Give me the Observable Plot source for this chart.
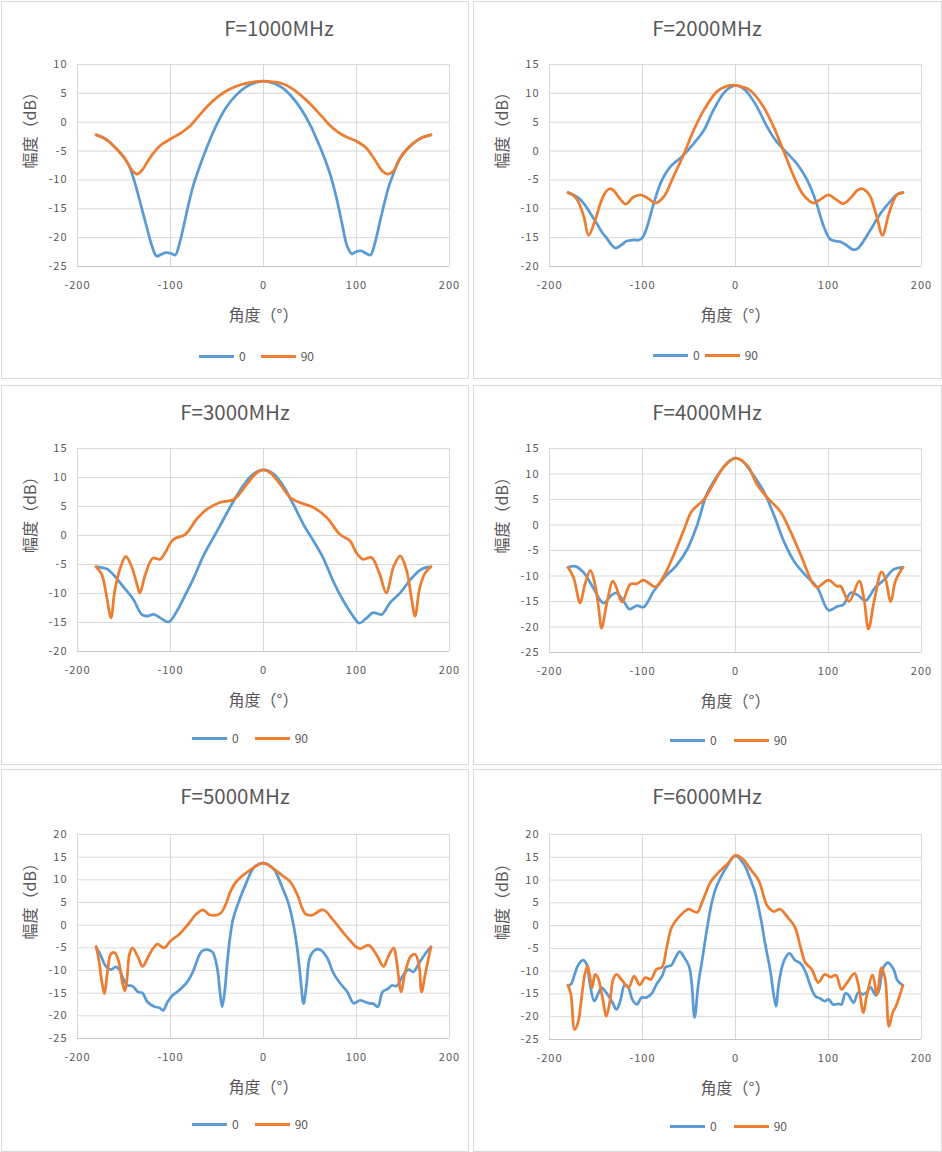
<!DOCTYPE html>
<html><head><meta charset="utf-8">
<script src="https://cdn.jsdelivr.net/npm/d3@7"></script>
<script src="https://cdn.jsdelivr.net/npm/@observablehq/plot@0.6"></script>
<style>
body{margin:0;background:#fff;}
#root{position:relative;width:942px;height:1152px;background:#fff;overflow:hidden;font-family:"Noto Sans CJK SC","Noto Sans",sans-serif;color:#595959;}
.panel{position:absolute;box-sizing:border-box;border:1px solid #d9d9d9;background:#fff;}
.title{position:absolute;left:0;width:468px;height:30px;line-height:30px;font-size:20.5px;text-align:center;white-space:nowrap;color:#595959;}
.legend{position:absolute;display:flex;align-items:center;font-size:12px;height:16px;line-height:16px;color:#595959;white-space:nowrap;}
.sw{display:inline-block;width:35px;height:3px;margin-right:5px;}
#root svg{position:absolute;}
</style></head>
<body><div id="root"></div>
<script>
// ---------- data ----------
const titles = ["F=1000MHz","F=2000MHz","F=3000MHz","F=4000MHz","F=5000MHz","F=6000MHz"];
const seriesNames = ["0","90"];
const seriesColors = ["#5B9BD5","#ED7D31"];
const xTickValues = [-200,-100,0,100,200];
const xLabel = "角度（°）";
const yLabel = "幅度（dB）";
const yDomains = [[-25,10],[-20,15],[-20,15],[-25,15],[-25,20],[-25,20]];

const f1000_0 = [[-180,-2.2],[-170,-2.9],[-160,-4.3],[-150,-6.1],[-145,-7.4],[-140,-9.6],[-135,-12.4],[-130,-15.5],[-125,-18.5],[-120,-21.4],[-115,-23.2],[-110,-22.9],[-105,-22.6],[-100,-22.7],[-95,-23.0],[-90,-20.8],[-85,-17.4],[-80,-13.8],[-75,-10.7],[-70,-8.3],[-60,-4.0],[-50,-0.3],[-40,2.6],[-30,4.6],[-20,6.0],[-10,6.8],[0,7.1],[10,6.8],[20,6.0],[30,4.5],[40,2.4],[50,-0.4],[60,-4.0],[70,-8.2],[75,-10.9],[80,-14.2],[85,-18.0],[90,-21.5],[95,-22.8],[100,-22.4],[105,-22.3],[110,-22.7],[115,-23.0],[120,-20.8],[125,-17.4],[130,-14.0],[135,-11.0],[140,-8.8],[145,-6.8],[150,-5.5],[160,-3.8],[170,-2.7],[180,-2.2]];
const f1000_90 = [[-180,-2.2],[-170,-2.9],[-160,-4.3],[-150,-6.1],[-145,-7.4],[-140,-8.6],[-136,-9.0],[-130,-8.2],[-125,-6.9],[-120,-5.7],[-115,-4.7],[-110,-3.9],[-100,-2.9],[-90,-2.0],[-80,-0.8],[-70,1.0],[-60,2.8],[-50,4.3],[-40,5.4],[-30,6.2],[-20,6.7],[-10,7.0],[0,7.1],[10,7.0],[20,6.7],[30,5.9],[40,4.7],[50,3.2],[60,1.5],[70,-0.3],[80,-1.7],[90,-2.6],[100,-3.3],[110,-4.4],[120,-6.6],[128,-8.5],[134,-9.0],[140,-8.4],[145,-6.8],[150,-5.5],[160,-3.8],[170,-2.7],[180,-2.2]];

const f2000_0 = [[-180,-7.2],[-170,-8.0],[-163,-9.1],[-156,-10.8],[-149,-12.6],[-143,-14.2],[-138,-15.2],[-133,-16.3],[-129,-16.8],[-123,-16.3],[-117,-15.6],[-110,-15.4],[-104,-15.4],[-100,-15.0],[-95,-13.1],[-88,-9.1],[-79,-5.0],[-70,-2.7],[-60,-1.3],[-56,-0.7],[-45,1.3],[-34,3.6],[-24,7.0],[-13,10.0],[-6,11.0],[0,11.4],[6,11.1],[12,10.3],[23,7.7],[34,4.2],[43,1.9],[54,-0.1],[66,-2.2],[77,-5.0],[86,-8.5],[95,-13.1],[102,-15.3],[108,-15.6],[113,-15.7],[120,-16.4],[127,-17.1],[132,-16.8],[136,-16.0],[145,-13.7],[156,-10.8],[166,-8.8],[173,-7.6],[180,-7.2]];
const f2000_90 = [[-180,-7.2],[-175,-7.6],[-170,-8.5],[-163,-11.4],[-158,-14.6],[-151,-12.0],[-144,-8.5],[-139,-7.0],[-135,-6.5],[-130,-7.0],[-126,-7.9],[-118,-9.2],[-110,-8.0],[-102,-7.6],[-94,-8.2],[-86,-9.0],[-77,-7.9],[-67,-4.5],[-56,-0.7],[-45,3.6],[-34,7.1],[-20,10.3],[-10,11.2],[0,11.4],[8,11.1],[16,10.5],[30,7.7],[41,4.2],[52,-0.1],[63,-4.5],[73,-7.6],[84,-9.0],[92,-8.3],[100,-7.6],[109,-8.5],[116,-9.1],[125,-7.9],[131,-6.8],[136,-6.5],[141,-7.0],[145,-7.9],[152,-11.4],[158,-14.6],[165,-10.8],[172,-7.9],[176,-7.3],[180,-7.2]];

const f3000_0 = [[-180,-5.4],[-175,-5.5],[-168,-5.8],[-160,-7.0],[-150,-9.0],[-140,-11.0],[-131,-13.6],[-125,-13.9],[-118,-13.6],[-111,-14.2],[-102,-14.9],[-93,-13.0],[-84,-10.2],[-75,-7.3],[-64,-3.3],[-54,-0.4],[-43,2.8],[-32,6.0],[-21,8.8],[-11,10.6],[0,11.3],[11,10.6],[21,8.6],[32,5.4],[43,1.9],[54,-1.0],[64,-3.8],[75,-7.9],[86,-11.3],[95,-13.6],[103,-15.1],[111,-14.2],[118,-13.3],[127,-13.6],[136,-11.6],[147,-9.9],[158,-7.6],[168,-6.0],[175,-5.5],[180,-5.4]];
const f3000_90 = [[-180,-5.4],[-174,-6.7],[-169,-10.2],[-164,-14.2],[-160,-9.6],[-154,-5.6],[-148,-3.6],[-142,-5.3],[-136,-8.4],[-133,-9.9],[-127,-6.7],[-119,-3.9],[-111,-4.1],[-106,-3.0],[-97,-0.7],[-84,0.2],[-72,2.8],[-61,4.5],[-47,5.7],[-32,6.2],[-18,8.8],[-8,10.7],[0,11.3],[8,10.7],[18,8.8],[29,6.5],[39,5.7],[54,4.8],[68,3.1],[82,0.2],[93,-0.9],[100,-3.0],[107,-4.1],[116,-3.8],[125,-6.7],[132,-9.9],[140,-5.3],[147,-3.5],[154,-6.1],[159,-10.7],[163,-13.9],[168,-9.0],[174,-6.4],[180,-5.4]];

const f4000_0 = [[-180,-8.3],[-172,-8.1],[-163,-9.4],[-153,-12.3],[-142,-15.3],[-133,-13.7],[-128,-13.3],[-120,-15.0],[-114,-16.5],[-106,-15.8],[-99,-16.1],[-88,-13.0],[-77,-10.4],[-63,-7.8],[-52,-4.8],[-41,0.1],[-31,6.0],[-16,10.6],[-7,12.5],[0,13.1],[7,12.6],[16,10.6],[30,6.7],[41,2.1],[52,-3.2],[63,-7.1],[73,-9.4],[88,-12.3],[100,-16.7],[109,-16.0],[116,-15.6],[124,-13.3],[131,-13.7],[140,-14.8],[150,-12.3],[160,-10.7],[170,-8.7],[180,-8.3]];
const f4000_90 = [[-180,-8.3],[-174,-10.4],[-167,-15.3],[-162,-11.7],[-156,-8.9],[-151,-11.7],[-147,-16.5],[-144,-20.2],[-138,-15.0],[-132,-11.0],[-128,-12.3],[-122,-15.1],[-113,-11.6],[-106,-11.5],[-99,-10.8],[-86,-12.1],[-77,-10.0],[-67,-6.1],[-56,-1.2],[-47,2.7],[-34,5.0],[-24,8.0],[-13,11.3],[0,13.1],[13,11.6],[23,8.0],[34,5.4],[48,2.7],[59,-1.2],[70,-5.8],[84,-11.7],[88,-12.2],[100,-10.8],[109,-12.0],[113,-12.0],[122,-15.0],[133,-11.0],[138,-14.3],[143,-20.4],[149,-15.0],[157,-9.2],[161,-10.4],[167,-15.0],[172,-11.0],[180,-8.3]];

const f5000_0 = [[-180,-4.8],[-175,-6.7],[-170,-8.9],[-164,-9.8],[-159,-9.2],[-155,-9.8],[-150,-12.2],[-146,-13.3],[-141,-13.4],[-135,-14.7],[-130,-15.0],[-125,-16.9],[-117,-18.0],[-112,-18.2],[-108,-18.8],[-103,-16.9],[-98,-15.5],[-91,-14.4],[-82,-12.5],[-76,-10.3],[-67,-5.9],[-62,-5.4],[-55,-5.9],[-50,-9.2],[-47,-14.4],[-44.5,-18.0],[-42,-15.1],[-38,-6.3],[-33,1.1],[-26,5.5],[-19,9.1],[-10,12.8],[0,13.7],[11,12.4],[20,8.4],[27,4.7],[32,0.3],[37,-6.3],[40,-12.2],[43,-17.3],[46,-13.6],[50,-7.0],[56,-5.4],[61,-5.4],[68,-7.0],[75,-10.5],[82,-12.7],[90,-14.7],[97,-17.2],[104,-16.6],[113,-17.2],[118,-17.3],[123,-18.0],[128,-14.7],[134,-14.0],[138,-13.3],[143,-13.4],[150,-11.1],[156,-9.8],[161,-10.3],[167,-8.5],[174,-6.3],[180,-4.8]];
const f5000_90 = [[-180,-4.7],[-177,-7.8],[-174,-12.2],[-171,-15.1],[-168,-10.7],[-164,-6.3],[-160,-6.1],[-156,-7.8],[-151.5,-12.9],[-149,-14.5],[-147,-12.2],[-144,-6.3],[-141,-5.0],[-135,-7.0],[-130,-9.1],[-125,-7.4],[-119,-5.2],[-114,-4.2],[-107,-5.0],[-100,-3.5],[-90,-1.9],[-81,0.2],[-72,2.5],[-65,3.4],[-58,2.3],[-47,2.5],[-41,4.4],[-35,7.7],[-28,9.9],[-15,12.1],[0,13.7],[11,12.4],[20,11.0],[29,9.5],[36,6.9],[45,2.5],[52,2.2],[64,3.4],[75,1.1],[88,-2.2],[99,-4.7],[104,-5.2],[113,-4.4],[122,-6.7],[129,-9.1],[134,-7.0],[140,-5.0],[143,-7.8],[148,-14.7],[152,-10.7],[158,-7.0],[163,-6.4],[167,-8.5],[170,-14.7],[174,-10.7],[180,-4.8]];

const f6000_0 = [[-180,-13.1],[-177,-12.9],[-173,-10.7],[-169,-8.6],[-164,-7.6],[-160,-8.5],[-157,-12.2],[-152,-16.6],[-148,-15.1],[-144,-13.6],[-139,-14.7],[-133,-16.6],[-128,-18.4],[-124,-16.6],[-119,-12.9],[-115,-13.6],[-111,-16.2],[-106,-17.3],[-101,-15.8],[-96,-15.8],[-90,-14.9],[-85,-12.9],[-79,-11.1],[-75,-9.1],[-69,-8.7],[-65,-7.2],[-60,-5.7],[-56,-6.7],[-50,-8.9],[-47,-12.9],[-44,-20.2],[-40,-12.9],[-36,-7.8],[-31,-1.1],[-25,5.5],[-20,8.8],[-11,12.4],[0,15.3],[9,13.5],[16,10.2],[21,7.3],[27,1.8],[32,-4.1],[37.5,-10.0],[41,-15.1],[43.6,-17.7],[46.4,-12.9],[52,-7.8],[58,-6.1],[64,-7.6],[70,-8.3],[75,-10.0],[80,-12.9],[86,-15.5],[91,-16.0],[96,-16.6],[100,-16.2],[105,-17.3],[111,-17.2],[114,-17.3],[118,-14.9],[121,-15.1],[127,-16.9],[132,-14.7],[137,-15.1],[141,-14.7],[145,-13.5],[151,-15.3],[154,-14.4],[159,-9.2],[164,-8.1],[170,-9.6],[174,-12.0],[180,-13.1]];
const f6000_90 = [[-180,-13.1],[-177,-15.1],[-173,-22.8],[-169,-21.0],[-166,-16.6],[-162,-10.7],[-159,-8.9],[-157,-10.7],[-154,-13.6],[-151,-10.7],[-148,-11.4],[-143,-15.8],[-139,-19.9],[-135,-16.6],[-131.5,-11.8],[-128,-10.7],[-122,-12.0],[-115,-13.6],[-109,-11.1],[-103,-13.0],[-97,-11.4],[-91,-11.8],[-85,-9.6],[-79,-9.1],[-74,-4.8],[-68.5,-0.3],[-59.5,2.2],[-50.5,3.6],[-41.4,2.9],[-36,5.1],[-27,9.5],[-20,11.3],[-9,13.5],[0,15.4],[9,14.4],[16,12.4],[25,9.9],[34,4.4],[41,3.1],[48,3.6],[57,1.6],[64,-0.4],[70,-4.8],[75,-8.1],[82,-9.6],[89,-12.5],[96,-10.7],[102,-11.3],[108,-10.9],[114,-14.0],[120,-12.5],[128,-10.5],[132,-12.9],[137.5,-19.1],[141,-15.5],[147.5,-10.8],[152,-15.1],[157,-9.2],[161,-11.8],[165,-22.1],[169,-19.1],[172.5,-17.7],[180,-13.1]];

const series0 = [f1000_0, f2000_0, f3000_0, f4000_0, f5000_0, f6000_0];
const series90 = [f1000_90, f2000_90, f3000_90, f4000_90, f5000_90, f6000_90];

// ---------- layout ----------
const layout = [
  {left:1,   top:1,   w:468, h:378, mt:63, ph:202, tdx:44, lgL:198, lgG:15, lgT:347},
  {left:473, top:1,   w:469, h:378, mt:63, ph:202, tdx:0,  lgL:180, lgG:5,  lgT:346},
  {left:1,   top:385, w:468, h:380, mt:63, ph:203, tdx:0,  lgL:191, lgG:16, lgT:345},
  {left:473, top:385, w:469, h:380, mt:63, ph:204, tdx:0,  lgL:197, lgG:17, lgT:347},
  {left:1,   top:769, w:468, h:383, mt:65, ph:204, tdx:0,  lgL:191, lgG:16, lgT:347},
  {left:473, top:769, w:469, h:383, mt:65, ph:205, tdx:0,  lgL:197, lgG:17, lgT:349}
];

const root = document.getElementById("root");
const FONT = '"Noto Sans CJK SC","Noto Sans",sans-serif';

function chart(i) {
  const L = layout[i];
  const [y0, y1] = yDomains[i];
  const yTicks = d3.range(y0, y1 + 0.001, 5);
  const mb = 65;
  const svg = Plot.plot({
    width: 468,
    height: L.mt + L.ph + mb,
    marginLeft: 76, marginRight: 20, marginTop: L.mt, marginBottom: mb,
    style: {fontFamily: FONT, fontSize: "11px", letterSpacing: "1px", color: "#595959", background: "transparent", overflow: "visible"},
    x: {domain: [xTickValues[0], xTickValues[xTickValues.length - 1]]},
    y: {domain: yDomains[i]},
    marks: [
      Plot.gridX(xTickValues, {stroke: "#d9d9d9", strokeOpacity: 1}),
      Plot.gridY(yTicks, {stroke: "#d9d9d9", strokeOpacity: 1}),
      Plot.ruleY([y0], {stroke: "#c6c6c6", strokeWidth: 1}),
      Plot.axisX(xTickValues, {tickSize: 0, tickPadding: 15, tickFormat: d => String(d), label: null, fill: "#595959"}),
      Plot.axisY(yTicks, {tickSize: 0, tickPadding: 10, tickFormat: d => String(d), label: null, fill: "#595959"}),
      Plot.line(series0[i], {x: d => d[0], y: d => d[1], stroke: seriesColors[0], strokeWidth: 2.75, curve: "catmull-rom"}),
      Plot.line(series90[i], {x: d => d[0], y: d => d[1], stroke: seriesColors[1], strokeWidth: 2.75, curve: "catmull-rom"}),
      Plot.text([xLabel], {text: d => d, frameAnchor: "bottom", dy: 49, lineAnchor: "middle", fontSize: 16, fill: "#595959"}),
      Plot.text([yLabel], {text: d => d, frameAnchor: "left", dx: -47, dy: 3, rotate: -90, lineAnchor: "middle", fontSize: 16, fill: "#595959"})
    ]
  });
  svg.querySelectorAll('g[aria-label="text"] text').forEach(t => { t.style.letterSpacing = "0px"; });
  return svg;
}

titles.forEach((t, i) => {
  const L = layout[i];
  const panel = document.createElement("div");
  panel.className = "panel";
  Object.assign(panel.style, {left: L.left + "px", top: L.top + "px", width: L.w + "px", height: L.h + "px"});
  root.appendChild(panel);

  const svg = chart(i);
  svg.style.left = L.left + "px";
  svg.style.top = L.top + "px";
  root.appendChild(svg);

  const title = document.createElement("div");
  title.className = "title";
  title.textContent = t;
  Object.assign(title.style, {left: (L.left + L.tdx) + "px", top: (L.top + 11) + "px"});
  root.appendChild(title);

  const lg = document.createElement("div");
  lg.className = "legend";
  Object.assign(lg.style, {left: (L.left + L.lgL) + "px", top: (L.top + L.lgT) + "px"});
  seriesNames.forEach((n, k) => {
    const item = document.createElement("span");
    item.style.display = "inline-flex";
    item.style.alignItems = "center";
    if (k > 0) item.style.marginLeft = L.lgG + "px";
    const sw = document.createElement("span");
    sw.className = "sw";
    sw.style.background = seriesColors[k];
    const lab = document.createElement("span");
    lab.textContent = n;
    item.appendChild(sw); item.appendChild(lab);
    lg.appendChild(item);
  });
  root.appendChild(lg);
});
</script>
</body></html>
